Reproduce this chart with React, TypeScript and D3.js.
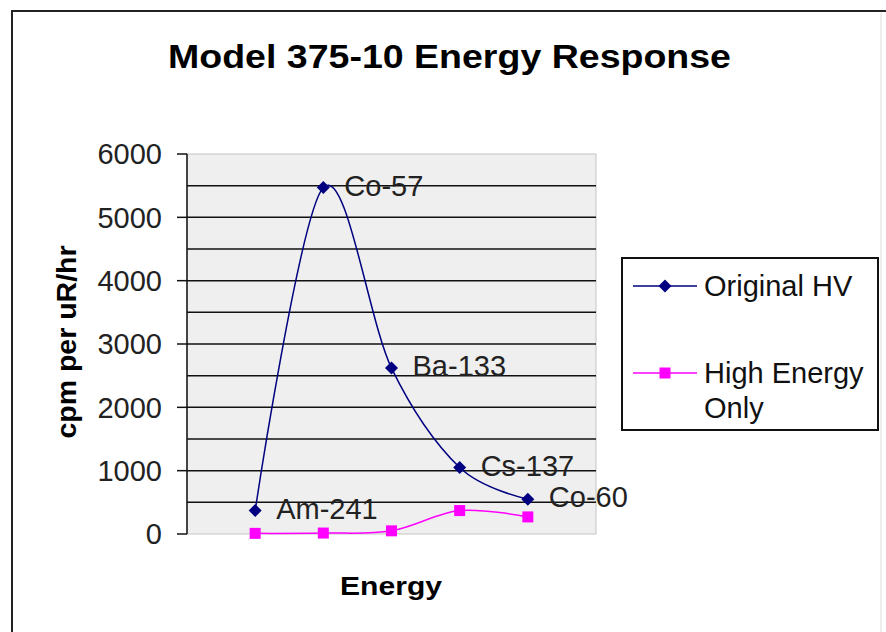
import React from 'react';
import * as d3 from 'd3';

// chart data
const categories = ['Am-241', 'Co-57', 'Ba-133', 'Cs-137', 'Co-60'];
const originalHV = [370, 5470, 2620, 1050, 550];
const highEnergyOnly = [10, 15, 50, 370, 270];
const yTicks = [0, 1000, 2000, 3000, 4000, 5000, 6000];
const gridValues = [500, 1000, 1500, 2000, 2500, 3000, 3500, 4000, 4500, 5000, 5500];
const seriesNames = ['Original HV', 'High Energy', 'Only'];

const FONT = "'Liberation Sans', Arial, sans-serif";

const App: React.FC = () => {
  const width = 886;
  const height = 632;
  const plot = { left: 187, top: 154, right: 596, bottom: 534 };

  const x = d3.scalePoint<string>()
    .domain(categories)
    .range([plot.left, plot.right])
    .padding(1);

  const y = d3.scaleLinear()
    .domain([0, 6000])
    .range([plot.bottom, plot.top]);

  const line = d3.line<number>()
    .x((_, i) => x(categories[i])!)
    .y((d) => y(d))
    .curve(d3.curveCatmullRom.alpha(0));

  const diamond = (cx: number, cy: number, r: number) =>
    `M${cx},${cy - r}L${cx + r},${cy}L${cx},${cy + r}L${cx - r},${cy}Z`;

  const blue = '#000080';
  const pink = '#ff00ff';

  return (
    <svg
      width={width}
      height={height}
      style={{ position: 'absolute', left: 0, top: 0, background: '#fff' }}
    >
      {/* chart frame, cut off at right and bottom like the picture */}
      <rect x={12} y={11} width={900} height={700} fill="#fff" stroke="#222" strokeWidth={2} />
      <line x1={881} x2={881} y1={13} y2={632} stroke="#ddd" strokeWidth={1} />

      <text
        x={168}
        y={68}
        fontFamily={FONT}
        fontWeight="bold"
        fontSize={33}
        textLength={563}
        lengthAdjust="spacingAndGlyphs"
        fill="#000"
      >
        Model 375-10 Energy Response
      </text>

      {/* plot area */}
      <rect
        x={plot.left}
        y={plot.top}
        width={plot.right - plot.left}
        height={plot.bottom - plot.top}
        fill="#efefef"
        stroke="#c4c4c4"
        strokeWidth={1}
      />
      {gridValues.map((v) => (
        <line key={v} x1={plot.left} x2={plot.right} y1={y(v)} y2={y(v)} stroke="#111" strokeWidth={1.5} />
      ))}
      <line x1={plot.left} x2={plot.left} y1={plot.top} y2={plot.bottom} stroke="#111" strokeWidth={1.5} />
      {yTicks.map((v) => (
        <g key={v}>
          <line x1={plot.left - 10} x2={plot.left} y1={y(v)} y2={y(v)} stroke="#111" strokeWidth={1.5} />
          <text
            x={plot.left - 25}
            y={y(v)}
            dy="0.36em"
            textAnchor="end"
            fontFamily={FONT}
            fontSize={29}
            fill="#222"
          >
            {v}
          </text>
        </g>
      ))}

      {/* axis titles */}
      <text
        transform={`translate(76, ${(plot.top + plot.bottom) / 2 - 2}) rotate(-90)`}
        textAnchor="middle"
        fontFamily={FONT}
        fontWeight="bold"
        fontSize={27}
        textLength={193}
        lengthAdjust="spacingAndGlyphs"
        fill="#000"
      >
        cpm per uR/hr
      </text>
      <text
        x={340}
        y={595}
        fontFamily={FONT}
        fontWeight="bold"
        fontSize={26}
        textLength={102}
        lengthAdjust="spacingAndGlyphs"
        fill="#000"
      >
        Energy
      </text>

      {/* series */}
      <path d={line(highEnergyOnly)!} fill="none" stroke={pink} strokeWidth={1.5} />
      <path d={line(originalHV)!} fill="none" stroke={blue} strokeWidth={1.5} />
      {highEnergyOnly.map((v, i) => (
        <rect key={i} x={x(categories[i])! - 5.5} y={y(v) - 5.5} width={11} height={11} fill={pink} />
      ))}
      {originalHV.map((v, i) => (
        <path key={i} d={diamond(x(categories[i])!, y(v), 6.5)} fill={blue} />
      ))}

      {/* data labels */}
      {originalHV.map((v, i) => (
        <text
          key={i}
          x={x(categories[i])! + 21}
          y={y(v) + 8}
          fontFamily={FONT}
          fontSize={29}
          fill="#222"
        >
          {categories[i]}
        </text>
      ))}

      {/* legend */}
      <rect x={622} y={258} width={256} height={172} fill="#fff" stroke="#111" strokeWidth={2} />
      <line x1={633} x2={697} y1={286} y2={286} stroke={blue} strokeWidth={1.5} />
      <path d={diamond(665, 286, 6.5)} fill={blue} />
      <text x={704} y={286} dy="0.36em" fontFamily={FONT} fontSize={29} fill="#111">
        {seriesNames[0]}
      </text>
      <line x1={633} x2={697} y1={373} y2={373} stroke={pink} strokeWidth={1.5} />
      <rect x={659.5} y={367.5} width={11} height={11} fill={pink} />
      <text x={704} y={373} dy="0.36em" fontFamily={FONT} fontSize={29} fill="#111">
        {seriesNames[1]}
      </text>
      <text x={704} y={408} dy="0.36em" fontFamily={FONT} fontSize={29} fill="#111">
        {seriesNames[2]}
      </text>
    </svg>
  );
};

export default App;
